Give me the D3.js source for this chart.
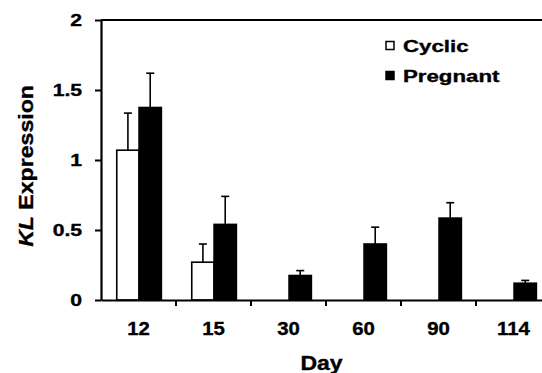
<!DOCTYPE html>
<html><head><meta charset="utf-8">
<script src="https://cdn.jsdelivr.net/npm/d3@7"></script>
<style>
html,body{margin:0;padding:0;background:#fff;}
svg{display:block;}
text{font-family:"Liberation Sans",Arial,sans-serif;font-weight:bold;fill:#000;stroke:#000;stroke-width:0.35px;}
</style></head>
<body>
<svg id="chart" width="542" height="373"></svg>
<script>
const days = ["12","15","30","60","90","114"];
const seriesNames = ["Cyclic","Pregnant"];
const cyclicValues = [1.07, 0.27, null, null, null, null];
const cyclicErrors = [0.265, 0.13, null, null, null, null];
const pregnantValues = [1.375, 0.54, 0.175, 0.40, 0.585, 0.12];
const pregnantErrors = [0.245, 0.20, 0.035, 0.12, 0.11, 0.02];
const yTicks = [0, 0.5, 1, 1.5, 2];
const yTickLabels = ["0","0.5","1","1.5","2"];

const svg = d3.select("#chart");
const W = 542, H = 373;
const m = {left:101, top:20, right:-9, bottom:73};

const x = d3.scaleBand().domain(days).range([m.left, W - m.right]).paddingInner(0).paddingOuter(0);
const bw = x.bandwidth();
const x1 = d3.scaleBand().domain(seriesNames).range([bw*0.21, bw*0.805]);
const y = d3.scaleLinear().domain([0,2]).range([H - m.bottom, m.top]);

function stretch(sel, sx){
  sel.each(function(){
    const n = this.getComputedTextLength();
    d3.select(this).attr("textLength", n*sx).attr("lengthAdjust","spacingAndGlyphs");
  });
}

// bars
const rows = days.map((d,i)=>({day:d, vals:[
  {s:"Cyclic", v:cyclicValues[i], e:cyclicErrors[i]},
  {s:"Pregnant", v:pregnantValues[i], e:pregnantErrors[i]}
]}));
const g = svg.append("g");
const grp = g.selectAll("g.grp").data(rows).join("g").attr("class","grp")
  .attr("transform", d=>`translate(${x(d.day)},0)`);
const items = grp.selectAll("g.item").data(d=>d.vals.filter(v=>v.v!=null)).join("g").attr("class","item");
items.append("line")
  .attr("x1", d=>x1(d.s)+x1.bandwidth()/2).attr("x2", d=>x1(d.s)+x1.bandwidth()/2)
  .attr("y1", d=>y(d.v)).attr("y2", d=>y(d.v+d.e))
  .attr("stroke","#000").attr("stroke-width",1.6);
items.append("line")
  .attr("x1", d=>x1(d.s)+x1.bandwidth()/2-4).attr("x2", d=>x1(d.s)+x1.bandwidth()/2+4)
  .attr("y1", d=>y(d.v+d.e)).attr("y2", d=>y(d.v+d.e))
  .attr("stroke","#000").attr("stroke-width",1.6);
items.append("rect")
  .attr("x", d=>x1(d.s)).attr("width", x1.bandwidth())
  .attr("y", d=>y(d.v)).attr("height", d=>y(0)-y(d.v))
  .attr("fill", d=>d.s==="Cyclic"?"#fff":"#000")
  .attr("stroke","#000").attr("stroke-width",1.6);

// y axis
const yAx = svg.append("g").attr("transform",`translate(${m.left},0)`)
  .call(d3.axisLeft(y).tickValues(yTicks).tickFormat((d,i)=>yTickLabels[i]).tickSize(6).tickSizeOuter(0).tickPadding(13));
yAx.select(".domain").attr("stroke-width",2.2);
yAx.selectAll(".tick line").attr("stroke-width",2);
yAx.selectAll("text").style("font-size","16px").attr("dy","0.36em").call(stretch,1.32);

// top frame line
svg.append("line").attr("x1",m.left).attr("x2",W-m.right).attr("y1",y(2)).attr("y2",y(2))
  .attr("stroke","#000").attr("stroke-width",2.2);

// x axis
const xAx = svg.append("g").attr("transform",`translate(0,${y(0)})`)
  .call(d3.axisBottom(x).tickSize(0).tickPadding(22));
xAx.select(".domain").attr("stroke-width",2.2);
xAx.selectAll("text").style("font-size","18px").attr("dy","0.71em").call(stretch,1.13);
svg.append("g").selectAll("line").data(days.slice(1)).join("line")
  .attr("x1", d=>x(d)).attr("x2", d=>x(d)).attr("y1", y(0)).attr("y2", y(0)+6)
  .attr("stroke","#000").attr("stroke-width",2);

// axis titles
const dayT = svg.append("text").attr("x",(m.left+W)/2).attr("y",370).attr("text-anchor","middle")
  .style("font-size","20px").text("Day");
stretch(dayT,1.15);
const yt = svg.append("text").attr("transform",`translate(33,166) rotate(-90)`).attr("text-anchor","middle")
  .style("font-size","21px");
yt.append("tspan").style("font-style","italic").text("KL");
yt.append("tspan").text(" Expression");
stretch(yt,1.1);

// legend
const leg = svg.append("g");
const legItems = [{s:"Cyclic", fill:"#fff", y:46},{s:"Pregnant", fill:"#000", y:76}];
legItems.forEach(it=>{
  leg.append("rect").attr("x",386).attr("y",it.y-4.5).attr("width",8).attr("height",8)
    .attr("fill",it.fill).attr("stroke","#000").attr("stroke-width",1.5);
  const t = leg.append("text").attr("x",403).attr("y",it.y+6).style("font-size","16px").text(it.s);
  stretch(t,1.39);
});
</script>
</body></html>
